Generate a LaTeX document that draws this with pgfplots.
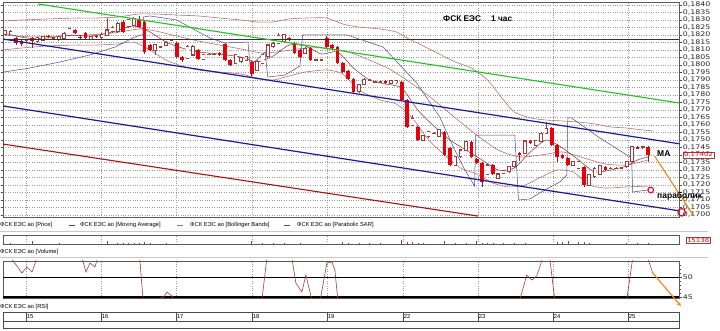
\documentclass[border=0pt]{standalone}
\usepackage{pgfplots}
\pgfplotsset{compat=1.18}
\usepackage{pgfplotstable}
\usepackage{fontspec}
\setmainfont{Liberation Sans}
\newfontfamily\tickfont[FakeStretch=1.25]{DejaVu Sans}
\usetikzlibrary{arrows.meta}

\definecolor{cdown}{HTML}{E8000B}
\definecolor{cwick}{HTML}{8B2323}
\definecolor{cup}{HTML}{9E3B3B}
\definecolor{cbb}{HTML}{B46A6A}
\definecolor{cma}{HTML}{8B3A3A}
\definecolor{csar}{HTML}{4A4A8C}
\definecolor{cgreen}{HTML}{22C322}
\definecolor{cblue}{HTML}{1A1A9C}
\definecolor{cred}{HTML}{B01010}
\definecolor{corange}{HTML}{F28A1E}
\definecolor{cgrid}{HTML}{9A9A9A}

\newcommand\lblfont{\fontsize{5.8}{6}\selectfont}
\newcommand\tkfont{\tickfont\fontsize{6.3}{7}\selectfont}

% hollow (rising) candles: k open high low close
\pgfplotstableread{
k o h l c
0 0.18207 0.18235 0.18200 0.18227
1 0.18211 0.18230 0.18205 0.18222
4 0.18167 0.18175 0.18155 0.18168
6 0.18160 0.18190 0.18150 0.18182
7 0.18167 0.18195 0.18160 0.18187
9 0.18182 0.18190 0.18175 0.18183
10 0.18169 0.18193 0.18162 0.18187
11 0.18178 0.18220 0.18170 0.18211
12 0.18200 0.18250 0.18193 0.18240
16 0.18171 0.18196 0.18165 0.18189
18 0.18182 0.18212 0.18175 0.18205
19 0.18200 0.18311 0.18193 0.18233
20 0.18222 0.18258 0.18215 0.18249
21 0.18222 0.18286 0.18215 0.18278
23 0.18255 0.18308 0.18248 0.18300
24 0.18267 0.18322 0.18260 0.18307
28 0.18100 0.18140 0.18067 0.18133
29 0.18122 0.18130 0.18115 0.18123
30 0.18133 0.18160 0.18126 0.18151
31 0.18167 0.18173 0.18160 0.18168
34 0.18045 0.18130 0.18038 0.18122
35 0.18067 0.18130 0.18060 0.18122
37 0.18040 0.18074 0.18033 0.18067
38 0.18071 0.18078 0.18065 0.18072
39 0.18071 0.18078 0.18065 0.18072
43 0.18011 0.18074 0.18004 0.18067
44 0.18022 0.18056 0.18015 0.18049
45 0.18033 0.18062 0.18026 0.18055
47 0.17967 0.18030 0.17960 0.18022
48 0.18011 0.18074 0.18004 0.18067
49 0.18055 0.18140 0.18048 0.18133
50 0.18122 0.18152 0.18115 0.18145
51 0.18145 0.18211 0.18138 0.18195
52 0.18160 0.18207 0.18153 0.18200
56 0.18078 0.18118 0.18071 0.18111
58 0.18033 0.18040 0.18026 0.18034
59 0.18033 0.18040 0.18026 0.18034
66 0.17822 0.17874 0.17815 0.17867
67 0.17873 0.17912 0.17866 0.17905
68 0.17900 0.17907 0.17893 0.17901
69 0.17889 0.17896 0.17882 0.17890
70 0.17889 0.17896 0.17882 0.17890
72 0.17878 0.17902 0.17871 0.17895
73 0.17882 0.17902 0.17875 0.17895
76 0.17600 0.17670 0.17593 0.17645
78 0.17500 0.17534 0.17493 0.17527
79 0.17522 0.17562 0.17515 0.17555
80 0.17545 0.17552 0.17538 0.17546
81 0.17527 0.17574 0.17520 0.17567
84 0.17333 0.17396 0.17326 0.17389
85 0.17389 0.17440 0.17382 0.17433
86 0.17433 0.17496 0.17426 0.17489
90 0.17273 0.17340 0.17266 0.17333
92 0.17245 0.17280 0.17238 0.17273
93 0.17278 0.17302 0.17271 0.17295
94 0.17289 0.17329 0.17282 0.17322
95 0.17322 0.17362 0.17315 0.17355
97 0.17411 0.17500 0.17404 0.17493
99 0.17467 0.17502 0.17460 0.17495
100 0.17489 0.17552 0.17482 0.17545
101 0.17545 0.17622 0.17538 0.17578
106 0.17333 0.17362 0.17326 0.17355
107 0.17311 0.17362 0.17304 0.17355
109 0.17200 0.17274 0.17193 0.17267
110 0.17255 0.17318 0.17248 0.17311
111 0.17273 0.17334 0.17266 0.17327
113 0.17311 0.17318 0.17304 0.17312
114 0.17311 0.17318 0.17304 0.17312
115 0.17315 0.17322 0.17308 0.17316
116 0.17322 0.17362 0.17315 0.17355
117 0.17355 0.17462 0.17348 0.17455
119 0.17449 0.17462 0.17442 0.17455
}\up

% red (falling) candles: k open high low close
\pgfplotstableread{
k o h l c
2 0.18178 0.18185 0.18135 0.18145
3 0.18160 0.18170 0.18130 0.18138
5 0.18178 0.18185 0.18113 0.18160
8 0.18195 0.18200 0.18178 0.18185
13 0.18233 0.18243 0.18205 0.18211
14 0.18189 0.18197 0.18170 0.18178
15 0.18211 0.18220 0.18170 0.18178
17 0.18195 0.18202 0.18178 0.18185
22 0.18289 0.18297 0.18215 0.18222
25 0.18300 0.18329 0.18248 0.18255
26 0.18289 0.18297 0.18075 0.18089
27 0.18133 0.18140 0.18090 0.18100
32 0.18145 0.18153 0.18048 0.18055
33 0.18055 0.18062 0.18020 0.18033
36 0.18100 0.18108 0.18033 0.18040
40 0.18078 0.18085 0.18060 0.18067
41 0.18140 0.18148 0.18025 0.18033
42 0.18033 0.18040 0.17993 0.18000
46 0.18022 0.18030 0.17930 0.17938
53 0.18182 0.18190 0.18160 0.18167
54 0.18145 0.18152 0.18070 0.18078
55 0.18100 0.18107 0.18048 0.18055
57 0.18111 0.18118 0.18026 0.18033
60 0.18182 0.18190 0.18115 0.18122
61 0.18133 0.18140 0.18106 0.18113
62 0.18120 0.18127 0.18004 0.18011
63 0.18011 0.18018 0.17948 0.17955
64 0.17962 0.17969 0.17898 0.17905
65 0.17905 0.17912 0.17815 0.17822
71 0.17895 0.17902 0.17871 0.17878
74 0.17889 0.17896 0.17760 0.17767
75 0.17767 0.17774 0.17582 0.17589
77 0.17585 0.17592 0.17493 0.17500
82 0.17555 0.17562 0.17393 0.17400
83 0.17445 0.17452 0.17326 0.17333
87 0.17489 0.17496 0.17382 0.17389
88 0.17371 0.17378 0.17342 0.17349
89 0.17349 0.17356 0.17190 0.17222
91 0.17333 0.17340 0.17266 0.17273
96 0.17415 0.17422 0.17360 0.17400
98 0.17493 0.17500 0.17471 0.17478
102 0.17578 0.17585 0.17460 0.17467
103 0.17467 0.17474 0.17355 0.17387
104 0.17400 0.17407 0.17371 0.17378
105 0.17378 0.17385 0.17326 0.17333
108 0.17322 0.17329 0.17185 0.17200
112 0.17322 0.17329 0.17293 0.17300
118 0.17455 0.17462 0.17438 0.17445
120 0.17455 0.17462 0.17355 0.17400
}\dn

\pgfplotsset{
  panel/.style={
    anchor=north west, scale only axis, width=676pt,
    xmin=-0.42, xmax=125.75,
    axis line style={draw=black!65, line width=0.6pt},
    xtick={3.87,17.87,31.87,46.03,60.03,74.2,88.2,102.2,116.2},
    xticklabels={}, xtick style={draw=none},
    xmajorgrids, grid style={dotted, cgrid, line width=0.5pt},
    scaled y ticks=false,
    /pgf/number format/assume math mode=true,
  },
  cbar/.style={draw=none, mark=none, forget plot,
    error bars/.cd, y dir=both, y explicit, error mark=none},
}

\begin{document}
\begin{tikzpicture}
\fill[white] (0pt,0pt) rectangle (720pt,-331pt);
\path[use as bounding box] (0pt,0pt) rectangle (720pt,-331pt);

% separators
\draw[black!22, line width=0.6pt] (0pt,-231.5pt) -- (708pt,-231.5pt);
\draw[black!22, line width=0.6pt] (0pt,-257pt) -- (708pt,-257pt);

% ================= PRICE PANEL =================
\begin{axis}[panel,
  at={(3pt,-2pt)}, height=215pt,
  ymin=0.169867, ymax=0.1842, clip=false,
  ymajorgrids,
  ytick={0.1700,0.1705,0.1710,0.1715,0.1720,0.1725,0.1730,0.1735,0.1740,0.1745,0.1750,0.1755,0.1760,0.1765,0.1770,0.1775,0.1780,0.1785,0.1790,0.1795,0.1800,0.1805,0.1810,0.1815,0.1820,0.1825,0.1830,0.1835,0.1840},
  ytick pos=both, yticklabel pos=right,
  tick align=outside, major tick length=2.5pt,
  ytick style={draw=black!70, line width=0.4pt},
  yticklabel style={font=\tkfont, text=black!85, inner sep=0.4pt, xshift=0.8pt},
  yticklabel={\pgfmathprintnumber[fixed,fixed zerofill,precision=4,use comma]{\tick}},
]
% Bollinger bands
\addplot[cbb, line width=0.55pt, smooth, tension=0.4] coordinates {(-0.42,0.18293) (3,0.18300) (8,0.18307) (13,0.18313) (17,0.18313) (21,0.18320) (25,0.18340) (28,0.18340) (32,0.18333) (36,0.18327) (40,0.18313) (44,0.18300) (47,0.18287) (50,0.18287) (53,0.18307) (56,0.18313) (60,0.18313) (63,0.18273) (66,0.18253) (70,0.18240) (73,0.18220) (75,0.18180) (78,0.18127) (81,0.18073) (84,0.18020) (87,0.17980) (90,0.17900) (93,0.17767) (95,0.17687) (98,0.17647) (101,0.17633) (104,0.17627) (107,0.17620) (110,0.17607) (113,0.17587) (116,0.17580) (119,0.17567) (121,0.17560)};
\addplot[cbb, line width=0.55pt, smooth, tension=0.4] coordinates {(-0.42,0.18200) (5,0.18187) (10,0.18193) (15,0.18200) (20,0.18213) (25,0.18240) (28,0.18227) (32,0.18193) (36,0.18160) (40,0.18133) (44,0.18107) (48,0.18080) (52,0.18093) (56,0.18113) (60,0.18113) (64,0.18087) (68,0.18033) (72,0.17967) (76,0.17873) (80,0.17767) (84,0.17647) (88,0.17533) (92,0.17433) (96,0.17387) (100,0.17400) (104,0.17420) (108,0.17380) (112,0.17340) (116,0.17333) (120,0.17367)};
\addplot[cbb, line width=0.55pt, smooth, tension=0.4] coordinates {(-0.42,0.18100) (3,0.18113) (8,0.18127) (13,0.18133) (17,0.18133) (21,0.18140) (24,0.18153) (27,0.18100) (30,0.18033) (33,0.17993) (36,0.17967) (40,0.17953) (44,0.17940) (47,0.17913) (50,0.17900) (53,0.17927) (56,0.17953) (60,0.17967) (63,0.17940) (66,0.17833) (70,0.17767) (73,0.17740) (76,0.17647) (79,0.17500) (82,0.17400) (85,0.17313) (88,0.17273) (91,0.17213) (94,0.17187) (97,0.17200) (100,0.17253) (103,0.17300) (106,0.17287) (109,0.17200) (112,0.17180) (116,0.17187) (120,0.17193)};
% Moving average
\addplot[cma, line width=0.55pt, smooth, tension=0.4] coordinates {(-0.42,0.18213) (4,0.18180) (8,0.18180) (12,0.18200) (16,0.18193) (20,0.18220) (24,0.18260) (27,0.18220) (30,0.18153) (33,0.18113) (36,0.18087) (40,0.18073) (44,0.18053) (47,0.18020) (50,0.18060) (53,0.18133) (56,0.18127) (59,0.18073) (62,0.18087) (65,0.17980) (68,0.17900) (71,0.17873) (74,0.17847) (77,0.17700) (80,0.17593) (83,0.17500) (86,0.17433) (89,0.17367) (92,0.17300) (95,0.17313) (98,0.17420) (101,0.17500) (104,0.17447) (107,0.17367) (110,0.17287) (113,0.17300) (116,0.17327) (118,0.17367) (120,0.17387)};
% Parabolic SAR
\addplot[csar, line width=0.5pt] coordinates {(-0.42,0.18120) (-0.3,0.17953) (4.6,0.17980) (10.2,0.18020) (15.8,0.18067) (20.5,0.18120) (23.8,0.18180) (25.3,0.18200) (25.7,0.18200) (25.8,0.18320) (27.0,0.18327) (32.0,0.18300) (38.2,0.18180) (41.0,0.18147) (45.3,0.18153) (45.7,0.17993) (48.5,0.18087) (49.0,0.17920) (52.2,0.17933) (55.0,0.17993) (55.5,0.18200) (63.8,0.18200) (70.5,0.18120) (76.8,0.17880) (81.1,0.17653) (83.9,0.17433) (85.8,0.17300) (87.6,0.17193) (87.8,0.17533) (95.1,0.17533) (95.8,0.17100) (97.9,0.17107) (100.7,0.17167) (103.5,0.17220) (104.8,0.17267) (105.0,0.17647) (105.7,0.17647) (111.0,0.17513) (116.9,0.17380) (117.1,0.17153) (119.9,0.17167)};

% candles: wicks
\addplot[cbar, error bar style={draw=cwick, line width=0.7pt}]
  table[x=k, y expr={(\thisrow{h}+\thisrow{l})/2}, y error expr={(\thisrow{h}-\thisrow{l})/2}] {\dn};
\addplot[cbar, error bar style={draw=cup, line width=0.7pt}]
  table[x=k, y expr={(\thisrow{h}+\thisrow{l})/2}, y error expr={(\thisrow{h}-\thisrow{l})/2}] {\up};
% candles: bodies
\addplot[cbar, error bar style={draw=cdown, line width=3.6pt}]
  table[x=k, y expr={(\thisrow{o}+\thisrow{c})/2}, y error expr={max((\thisrow{o}-\thisrow{c})/2,0.00003)}] {\dn};
\addplot[cbar, error bar style={draw=cup, line width=3.6pt}]
  table[x=k, y expr={(\thisrow{o}+\thisrow{c})/2}, y error expr={(\thisrow{c}-\thisrow{o})/2+0.00004}] {\up};
\addplot[cbar, error bar style={draw=white, line width=2.2pt}]
  table[x=k, y expr={(\thisrow{o}+\thisrow{c})/2}, y error expr={max((\thisrow{c}-\thisrow{o})/2-0.00003,0)}] {\up};

% trend lines
\addplot[black!80, line width=1.4pt] coordinates {(-0.42,0.18171) (125.75,0.18171)};
\addplot[cgreen, line width=1.1pt] coordinates {(6.11,0.18407) (125.75,0.17747)};
\addplot[cblue, line width=1.2pt] coordinates {(-0.42,0.18173) (125.75,0.17475)};
\addplot[cblue, line width=1.2pt] coordinates {(-0.42,0.17727) (125.75,0.17028)};
\addplot[cred, line width=1.1pt] coordinates {(-0.42,0.17473) (88.2,0.16993)};

% annotations
\addplot[corange, line width=1.2pt, -{Stealth[length=4pt,width=4pt]}] coordinates {(121.2,0.17393) (128.5,0.16993)};
\addplot[only marks, mark=*, mark size=2.8pt, mark options={draw=cdown, fill=white, line width=1.1pt}] coordinates {(120.47,0.17167)};
\addplot[only marks, mark=o, mark size=3.8pt, mark options={draw=cdown, line width=1.1pt}] coordinates {(126.25,0.17018)};
\end{axis}

% price label
\node[draw=cup, fill=white, text=cdown, font=\tickfont\fontsize{5.6}{6}\selectfont, inner sep=0.8pt, anchor=west] at (683pt,-155pt) {0,17402};
% text annotations
\node[anchor=west, inner sep=0pt, font=\bfseries\fontsize{8.3}{9}\selectfont] at (443pt,-19pt) {ФСК ЕЭС};
\node[anchor=west, inner sep=0pt, font=\bfseries\fontsize{8.3}{9}\selectfont] at (491pt,-19pt) {1 час};
\node[anchor=west, inner sep=0pt, font=\bfseries\fontsize{8.5}{9}\selectfont] at (657pt,-154pt) {MA};
\node[anchor=west, inner sep=0pt, font=\bfseries\fontsize{8.5}{9}\selectfont] at (657pt,-196pt) {параболик};

% legend line
\node[anchor=west, inner sep=0pt, font=\lblfont] at (0pt,-225pt) {ФСК ЕЭС ао [Price]};
\draw[cma, line width=0.8pt] (69pt,-225pt) -- (75pt,-225pt);
\node[anchor=west, inner sep=0pt, font=\lblfont] at (80pt,-225pt) {ФСК ЕЭС ао [Moving Average]};
\draw[cbb, line width=0.8pt] (177pt,-225pt) -- (183pt,-225pt);
\node[anchor=west, inner sep=0pt, font=\lblfont] at (190pt,-225pt) {ФСК ЕЭС ао [Bollinger Bands]};
\draw[csar, line width=0.8pt] (284pt,-225pt) -- (290pt,-225pt);
\node[anchor=west, inner sep=0pt, font=\lblfont] at (297pt,-225pt) {ФСК ЕЭС ао [Parabolic SAR]};

% ================= VOLUME PANEL =================
\begin{axis}[panel, at={(3pt,-235pt)}, height=9pt, ymin=0, ymax=100000, ytick=\empty]
\addplot[ycomb, draw=cup, line width=0.6pt, mark=none] coordinates {(1,8000) (5,30000) (10,6000) (19,30000) (21,8000) (22,10000) (23,8000) (24,10000) (25,12000) (26,22000) (27,10000) (30,6000) (46,30000) (48,8000) (50,10000) (52,8000) (55,10000) (63,18000) (64,15000) (66,10000) (68,8000) (70,8000) (74,40000) (75,25000) (76,20000) (77,15000) (78,12000) (82,28000) (84,10000) (86,8000) (88,38000) (89,15000) (90,12000) (91,10000) (93,10000) (95,8000) (97,8000) (103,18000) (104,20000) (105,28000) (107,18000) (108,22000) (109,15000) (116,10000) (118,12000) (120,15138)};
\end{axis}
\node[draw=cup, fill=white, text=cdown, font=\tickfont\fontsize{5.6}{6}\selectfont, inner sep=0.8pt, anchor=west] at (686pt,-240pt) {15138};
\node[anchor=west, inner sep=0pt, font=\lblfont] at (0pt,-252pt) {ФСК ЕЭС ао [Volume]};

% ================= RSI PANEL =================
\begin{axis}[panel, at={(3pt,-261pt)}, height=37pt, ymin=44.75, ymax=54,
  ytick={45,50}, minor ytick={46,47,48,49,51,52,53},
  ytick pos=right, yticklabel pos=right, tick align=outside,
  major tick length=2.5pt, minor tick length=1.5pt,
  ytick style={draw=black!70, line width=0.4pt},
  yticklabel style={font=\tkfont, text=black!85, inner sep=0.4pt, xshift=0.8pt}]
\addplot[black, line width=0.9pt] coordinates {(-0.42,50) (125.75,50)};
\addplot[black, line width=1.2pt] coordinates {(-0.42,45) (125.75,45)};
\addplot[cup, line width=0.6pt] coordinates {(-0.42,56) (0.88,55) (2.19,52.75) (3.12,51.0) (4.06,52.5) (4.99,51.25) (5.92,54.75) (10.21,56.75) (13.95,55.5) (14.5,54.0) (15.06,51.25) (15.81,53.5) (16.74,52.5) (17.3,55) (21.41,56.75) (24.77,55.5) (25.14,54) (25.7,44.75) (26.07,43) (28.31,44.25) (28.87,44.75) (29.62,45) (30.18,46.25) (31.11,45.25) (31.48,44.25) (36.33,41.75) (43.79,41.75) (47.9,44.25) (48.83,54.75) (51.26,55.5) (53.5,54.75) (54.24,48.5) (55.36,46.25) (56.11,50.5) (57.23,44.25) (58.72,43.75) (60.03,53.5) (60.96,53.75) (61.52,51.75) (62.08,44.25) (66.18,41.75) (82.97,41.25) (96.03,44.25) (97.34,50.5) (98.27,49.25) (99.2,50.25) (100.32,54.75) (101.63,54.75) (102.56,44.25) (110.96,41.75) (115.99,44.25) (117.11,54.75) (119.91,54.75) (120.85,51.0)};
\end{axis}
\begin{axis}[at={(3pt,-261pt)}, anchor=north west, scale only axis, width=676pt, height=37pt,
  xmin=-0.42, xmax=125.75, ymin=44.75, ymax=54, hide axis, clip=false]
\addplot[corange, line width=1.2pt, -{Stealth[length=4pt,width=4pt]}] coordinates {(120.85,51.0) (126.1,42.75)};
\end{axis}
\node[anchor=west, inner sep=0pt, font=\lblfont] at (0pt,-307pt) {ФСК ЕЭС ао [RSI]};

% ================= DATE STRIP =================
\begin{axis}[panel, at={(3pt,-312pt)}, height=9pt, ymin=0, ymax=1, ytick=\empty,
  axis line style={draw=black!70, line width=0.6pt},
  grid style={solid, black!70, line width=0.6pt}]
\node[anchor=west, inner sep=0.8pt, font=\lblfont] at (axis cs:3.87,0.5) {15};
\node[anchor=west, inner sep=0.8pt, font=\lblfont] at (axis cs:17.87,0.5) {16};
\node[anchor=west, inner sep=0.8pt, font=\lblfont] at (axis cs:31.87,0.5) {17};
\node[anchor=west, inner sep=0.8pt, font=\lblfont] at (axis cs:46.03,0.5) {18};
\node[anchor=west, inner sep=0.8pt, font=\lblfont] at (axis cs:60.03,0.5) {19};
\node[anchor=west, inner sep=0.8pt, font=\lblfont] at (axis cs:74.2,0.5) {22};
\node[anchor=west, inner sep=0.8pt, font=\lblfont] at (axis cs:88.2,0.5) {23};
\node[anchor=west, inner sep=0.8pt, font=\lblfont] at (axis cs:102.2,0.5) {24};
\node[anchor=west, inner sep=0.8pt, font=\lblfont] at (axis cs:116.2,0.5) {25};
\end{axis}
\draw[black!70, line width=0.6pt] (3pt,-321pt) rectangle (679pt,-328pt);
\end{tikzpicture}
\end{document}
